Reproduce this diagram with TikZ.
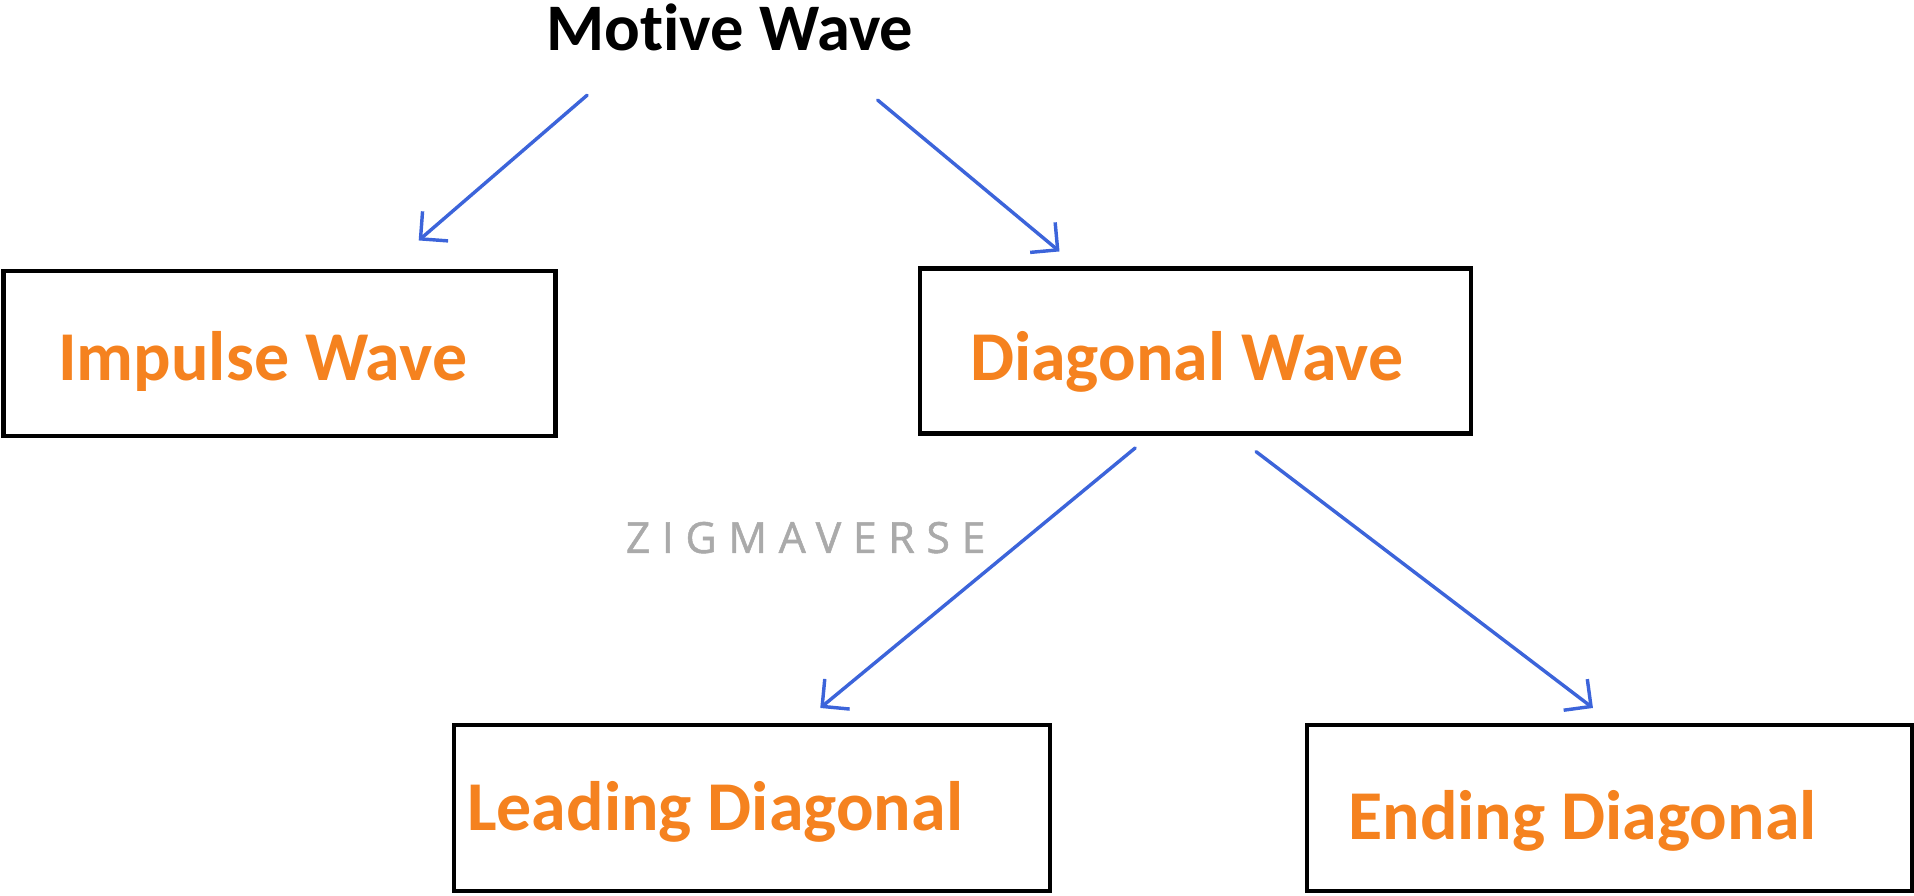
\documentclass[tikz,border=0pt]{standalone}
\usepackage{fontspec}
\setmainfont{Carlito}[Ligatures=NoCommon]
\newfontfamily\markfont{Open Sans}[LetterSpace=27, FakeBold=1.2]
\usetikzlibrary{arrows.meta}
\definecolor{waveorange}{RGB}{245,130,31}
\definecolor{linkblue}{RGB}{60,100,218}
\definecolor{markgray}{RGB}{170,170,170}
\begin{document}
\begin{tikzpicture}[x=0.01cm,y=-0.01cm,
  wavebox/.style 2 args={draw=black, line width=1pt, minimum width=#1, minimum height=#2, inner sep=0pt},
  wavelabel/.style={anchor=base west, inner sep=0pt, text=waveorange, font=\bfseries\fontsize{16.3}{19}\selectfont},
  headline/.style={anchor=base west, inner sep=0pt, text=black, font=\bfseries\fontsize{15.5}{18}\selectfont},
  link/.style={draw=linkblue, line width=0.8pt, line cap=round,
    -{Straight Barb[length=1.6mm, width=3.2mm, line width=0.8pt]}}]
\useasboundingbox (0,0) rectangle (1568,734);

% heading
\node[headline] (motive) at (447,41) {Motive Wave};

% boxes
\node[wavebox={4.52cm}{1.35cm}] (impulse) at (229,289.5) {};
\node[wavebox={4.51cm}{1.35cm}] (diagonal) at (979.5,287.5) {};
\node[wavebox={4.88cm}{1.36cm}] (leading) at (616,662) {};
\node[wavebox={4.95cm}{1.36cm}] (ending) at (1318.5,662) {};

% box captions
\node[wavelabel] (impulsetxt) at (47,312) {Impulse Wave};
\node[wavelabel] (diagonaltxt) at (794,312) {Diagonal Wave};
\node[wavelabel] (leadingtxt) at (382,680) {Leading Diagonal};
\node[wavelabel] (endingtxt) at (1104,688) {Ending Diagonal};

% watermark
\node[anchor=base west, inner sep=0pt, text=markgray, font=\markfont\fontsize{10}{12}\selectfont] (mark) at (512,453) {ZIGMAVERSE};

% arrow end points
\coordinate (a1s) at (481,78);
\coordinate (a1e) at (343,197);
\coordinate (a2s) at (719,82);
\coordinate (a2e) at (868,206);
\coordinate (a3s) at (930,367);
\coordinate (a3e) at (672,580);
\coordinate (a4s) at (1029,370);
\coordinate (a4e) at (1305,580);

% arrows
\draw[link] (a1s) -- (a1e);
\draw[link] (a2s) -- (a2e);
\draw[link] (a3s) -- (a3e);
\draw[link] (a4s) -- (a4e);
\end{tikzpicture}
\end{document}
